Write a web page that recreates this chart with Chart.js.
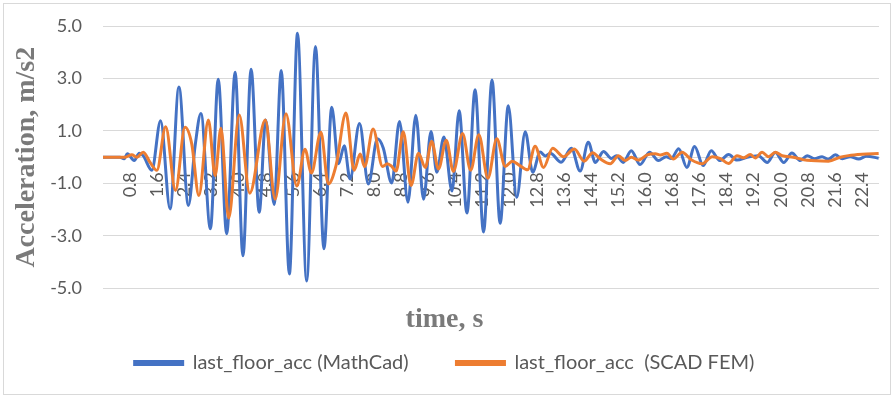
<!DOCTYPE html>
<html>
<head>
<meta charset="utf-8">
<script src="https://cdn.jsdelivr.net/npm/chart.js@4"></script>
<style>
  html, body { margin: 0; padding: 0; background: #fff; }
  #wrap { position: relative; width: 894px; height: 398px; }
</style>
</head>
<body>
<div id="wrap"><canvas id="acc-chart" width="894" height="398"></canvas></div>
<script>
// time (s) and acceleration (m/s2) of the last floor
const mathcadT = [0, 0.50, 0.62, 0.72, 0.92, 1.07, 1.19, 1.44, 1.70, 1.98, 2.24, 2.52, 2.72, 2.89, 3.17, 3.40, 3.65, 3.90, 4.13, 4.37,
  4.61, 4.80, 5.05, 5.26, 5.50, 5.74, 6.01, 6.27, 6.52, 6.75, 6.95, 7.12, 7.29, 7.57, 7.83, 8.10, 8.27, 8.52, 8.75, 9.00,
  9.23, 9.46, 9.68, 9.85, 10.06, 10.30, 10.51, 10.74, 10.98, 11.23, 11.48, 11.72, 11.96, 12.21, 12.46, 12.68, 12.90, 13.05, 13.20, 13.52,
  13.82, 14.08, 14.32, 14.53, 14.77, 15.00, 15.15, 15.35, 15.59, 15.85, 16.13, 16.39, 16.62, 16.77, 16.99, 17.23, 17.46, 17.71, 17.95, 18.20,
  18.46, 18.71, 19.01, 19.34, 19.60, 19.84, 20.09, 20.33, 20.58, 20.78, 21.00, 21.22, 21.40, 21.61, 21.82, 22.05, 22.30, 22.53, 22.89];
const mathcadAcc = [0, 0, -0.06, 0.13, -0.13, 0.15, 0.05, -0.5, 1.39, -1.97, 2.68, -1.84, 0.45, 1.67, -2.73, 2.97, -2.92, 3.24, -3.76, 3.35,
  -2.1, 1.42, -1.8, 3.3, -4.45, 4.72, -4.72, 4.22, -3.49, 1.9, -0.25, 0.44, -0.83, 1.28, -1.02, 0.7, 0.35, -0.98, 1.36, -1.72,
  1.6, -1.6, 0.98, -0.57, 0.77, -1.29, 1.77, -2.13, 2.57, -2.85, 2.94, -2.52, 1.96, -1.53, 0.97, -0.57, 0.2, 0.05, 0.15, -0.19,
  0.34, -0.53, 0.57, -0.2, 0.22, -0.05, 0.06, -0.2, 0.25, -0.28, 0.19, -0.13, 0.02, -0.05, 0.32, -0.39, 0.41, -0.32, 0.25, -0.13,
  0.1, -0.11, 0.0, 0.06, -0.2, 0.18, -0.2, 0.16, -0.13, 0.06, -0.06, 0.02, -0.08, 0.09, -0.06, 0.02, -0.07, 0.04, -0.04];

const scadT = [0, 0.65, 0.85, 1.00, 1.19, 1.39, 1.59, 1.85, 2.14, 2.42, 2.62, 2.83, 3.11, 3.31, 3.48, 3.71, 4.02, 4.33, 4.79, 5.08,
  5.40, 5.72, 5.96, 6.15, 6.43, 6.65, 6.88, 7.17, 7.41, 7.59, 7.72, 7.97, 8.25, 8.39, 8.52, 8.65, 8.86, 9.09, 9.31, 9.51,
  9.70, 9.90, 10.13, 10.34, 10.61, 10.85, 11.09, 11.36, 11.62, 11.87, 12.08, 12.28, 12.53, 12.75, 13.00, 13.27, 13.59, 13.91, 14.20, 14.45,
  14.67, 14.97, 15.21, 15.41, 15.59, 15.80, 16.06, 16.30, 16.45, 16.64, 16.83, 17.09, 17.36, 17.68, 17.98, 18.22, 18.46, 18.71, 18.90, 19.10,
  19.25, 19.45, 19.64, 19.84, 20.04, 20.37, 20.78, 21.41, 21.76, 22.00, 22.40, 22.89];
const scadAcc = [0, 0, 0.09, 0, 0.19, -0.2, -0.5, 1.16, -1.27, 1.14, 0.5, -1.46, 1.42, -0.7, 1.1, -2.32, 1.61, -1.37, 1.42, -1.6,
  1.66, -1.1, 0.3, -0.6, 0.95, -1.02, -0.3, 1.68, -0.5, 0.12, -0.36, 1.07, -0.35, -0.25, -0.35, -0.53, 0.97, -1.08, 0.15, -0.39,
  0.6, -0.45, 0.65, -0.54, 0.9, -0.5, 0.86, -0.8, 0.7, -0.35, -0.15, -0.3, -0.48, 0.42, -0.39, 0.34, 0.02, 0.31, -0.15, 0.17,
  -0.06, -0.25, 0.06, -0.13, 0.0, -0.11, 0.09, 0.13, 0.08, 0.15, -0.07, 0.19, -0.1, -0.25, 0.02, -0.05, -0.24, 0.06, -0.02, 0.1,
  -0.03, 0.19, 0.02, 0.19, 0.06, 0.0, -0.12, -0.15, 0.0, 0.06, 0.11, 0.14];

const timeTicks = [0.8, 1.6, 2.4, 3.2, 4.0, 4.8, 5.6, 6.4, 7.2, 8.0, 8.8, 9.6, 10.4, 11.2, 12.0, 12.8, 13.6, 14.4,
  15.2, 16.0, 16.8, 17.6, 18.4, 19.2, 20.0, 20.8, 21.6, 22.4];
const accTicks = [-5, -3, -1, 1, 3, 5];

const toPoints = (ts, vs) => ts.map((t, i) => ({ x: t, y: vs[i] }));

const grey = '#595959';

// white background + thin frame round the whole chart
const frame = {
  id: 'frame',
  beforeDraw(chart) {
    const ctx = chart.ctx;
    ctx.save();
    ctx.fillStyle = '#fff';
    ctx.fillRect(0, 0, chart.width, chart.height);
    ctx.strokeStyle = '#d9d9d9';
    ctx.lineWidth = 1;
    ctx.strokeRect(3.5, 3.5, chart.width - 7, chart.height - 7);
    ctx.restore();
  }
};

const accData = {
  datasets: [
    {
      label: 'last_floor_acc (MathCad)',
      data: toPoints(mathcadT, mathcadAcc),
      borderColor: '#4472C4',
      backgroundColor: '#4472C4',
      borderWidth: 3,
      pointRadius: 0,
      cubicInterpolationMode: 'monotone',
      order: 1
    },
    {
      label: 'last_floor_acc  (SCAD FEM)',
      data: toPoints(scadT, scadAcc),
      borderColor: '#ED7D31',
      backgroundColor: '#ED7D31',
      borderWidth: 3,
      pointRadius: 0,
      cubicInterpolationMode: 'monotone',
      order: 0
    }
  ]
};

// legend entries keep dataset order; a few trailing spaces widen the gap between them
const legendLabels = chart => {
  const items = Chart.defaults.plugins.legend.labels.generateLabels(chart);
  items.sort((a, b) => a.datasetIndex - b.datasetIndex);
  items.forEach((it, i) => { if (i < items.length - 1) it.text += '       '; });
  return items;
};

const accConfig = {
  type: 'line',
  data: accData,
  plugins: [frame],
  options: {
    responsive: false,
    animation: false,
    layout: { padding: { left: 10, right: 15, top: 26, bottom: 15 } },
    plugins: {
      tooltip: { enabled: false },
      legend: {
        position: 'bottom',
        labels: {
          boxWidth: 48,
          boxHeight: 3,
          padding: 12,
          color: grey,
          font: { family: 'Lato', size: 20 },
          generateLabels: legendLabels
        }
      },
      title: {
        display: true,
        position: 'bottom',
        weight: 500,
        text: 'time, s',
        color: '#7a7a7a',
        font: { family: 'Liberation Serif', size: 28, weight: 'bold' },
        padding: { top: 15, bottom: 4 }
      }
    },
    scales: {
      x: {
        type: 'linear',
        position: { y: 0 },
        min: 0,
        max: 22.9,
        afterBuildTicks: axis => { axis.ticks = timeTicks.map(v => ({ value: v })); },
        // rotated labels should not push the plot edges inwards
        afterFit: axis => { axis.paddingLeft = 0; axis.paddingRight = 0; },
        grid: { display: false, drawTicks: false },
        border: { display: true, color: '#d9d9d9' },
        ticks: {
          minRotation: 90,
          maxRotation: 90,
          padding: 15,
          color: grey,
          font: { family: 'Lato', size: 18 },
          callback: v => v.toFixed(1)
        }
      },
      y: {
        min: -5,
        max: 5,
        afterBuildTicks: axis => { axis.ticks = accTicks.map(v => ({ value: v })); },
        afterFit: axis => { axis.width = 93; axis.paddingTop = 0; axis.paddingBottom = 0; },
        grid: { color: '#d9d9d9', drawTicks: false },
        border: { display: false },
        ticks: {
          padding: 21,
          color: grey,
          font: { family: 'Lato', size: 18 },
          callback: v => v.toFixed(1)
        },
        title: {
          display: true,
          text: 'Acceleration, m/s2',
          color: '#7a7a7a',
          font: { family: 'Liberation Serif', size: 28, weight: 'bold' },
          padding: { top: 0, bottom: 4 }
        }
      }
    }
  }
};

const accChart = new Chart(document.getElementById('acc-chart'), accConfig);
</script>
</body>
</html>
